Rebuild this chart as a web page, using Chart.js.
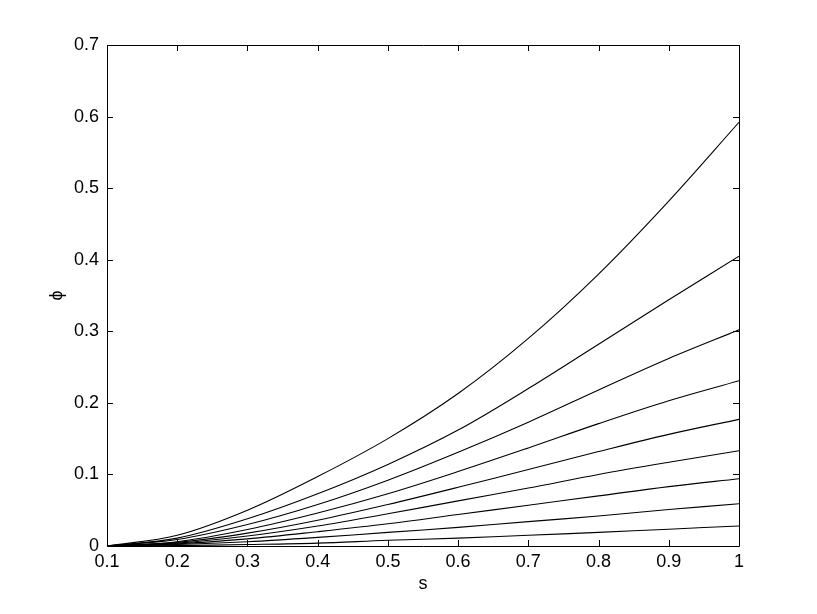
<!DOCTYPE html>
<html>
<head>
<meta charset="utf-8">
<title>phi vs s</title>
<script src="https://cdn.jsdelivr.net/npm/chart.js@4"></script>
<style>
  body{margin:0;background:#fff;}
  #wrap{width:817px;height:614px;}
</style>
</head>
<body>
<div id="wrap"><canvas id="chart" width="817" height="614"></canvas></div>
<script>
// s values (x axis)
const sVals = [0.1, 0.2, 0.3, 0.4, 0.5, 0.6, 0.7, 0.8, 0.9, 1.0];

// curves, top to bottom
const curve1 = [0, 0.015, 0.050, 0.097, 0.150, 0.213, 0.290, 0.380, 0.482, 0.592];
const curve2 = [0, 0.011, 0.038, 0.073, 0.114, 0.162, 0.220, 0.282, 0.344, 0.405];
const curve3 = [0, 0.009, 0.030, 0.058, 0.092, 0.131, 0.173, 0.218, 0.262, 0.302];
const curve4 = [0, 0.006, 0.023, 0.046, 0.073, 0.104, 0.137, 0.171, 0.203, 0.231];
const curve5 = [0, 0.005, 0.018, 0.036, 0.058, 0.082, 0.107, 0.132, 0.156, 0.177];
const curve6 = [0, 0.004, 0.014, 0.028, 0.045, 0.063, 0.081, 0.100, 0.117, 0.133];
const curve7 = [0, 0.003, 0.010, 0.020, 0.031, 0.044, 0.057, 0.070, 0.083, 0.094];
const curve8 = [0, 0.002, 0.006, 0.012, 0.019, 0.026, 0.034, 0.042, 0.051, 0.059];
const curve9 = [0, 0.0006, 0.002, 0.004, 0.008, 0.011, 0.015, 0.019, 0.0235, 0.028];

const curves = [curve1, curve2, curve3, curve4, curve5, curve6, curve7, curve8, curve9];

// axis ticks
const xTicks = [0.1, 0.2, 0.3, 0.4, 0.5, 0.6, 0.7, 0.8, 0.9, 1];
const yTicks = [0, 0.1, 0.2, 0.3, 0.4, 0.5, 0.6, 0.7];

const FONT = "'Liberation Sans', Arial, Helvetica, sans-serif";

// matlab style box with inward ticks on all four sides
const boxPlugin = {
  id: 'box',
  afterDraw(chart){
    const {ctx, chartArea: a, scales: {x, y}} = chart;
    const L = 6;
    ctx.save();
    ctx.strokeStyle = '#000';
    ctx.lineWidth = 1;
    ctx.beginPath();
    ctx.rect(Math.round(a.left) + 0.5, Math.round(a.top) + 0.5,
             Math.round(a.right) - Math.round(a.left), Math.round(a.bottom) - Math.round(a.top));
    xTicks.forEach(v => {
      const px = Math.round(x.getPixelForValue(v)) + 0.5;
      ctx.moveTo(px, a.bottom); ctx.lineTo(px, a.bottom - L);
      ctx.moveTo(px, a.top); ctx.lineTo(px, a.top + L);
    });
    yTicks.forEach(v => {
      const py = Math.round(y.getPixelForValue(v)) + 0.5;
      ctx.moveTo(a.left, py); ctx.lineTo(a.left + L, py);
      ctx.moveTo(a.right, py); ctx.lineTo(a.right - L, py);
    });
    ctx.stroke();
    ctx.restore();
  }
};

const datasets = curves.map((c, i) => ({
  label: 'curve ' + (i + 1),
  data: sVals.map((s, j) => ({x: s, y: c[j]})),
  borderColor: '#000',
  borderWidth: 1.1,
  pointRadius: 0,
  fill: false,
  tension: 0.35
}));

new Chart(document.getElementById('chart'), {
  type: 'line',
  data: {datasets},
  options: {
    responsive: false,
    animation: false,
    layout: {padding: {top: 45, right: 78, left: 0, bottom: 0}},
    plugins: {legend: {display: false}, tooltip: {enabled: false}},
    scales: {
      x: {
        type: 'linear', min: 0.1, max: 1,
        afterBuildTicks: s => { s.ticks = xTicks.map(v => ({value: v})); },
        afterFit: s => { s.height = 68; },
        grid: {display: false, drawTicks: false},
        border: {display: false},
        ticks: {color: '#000', padding: 5, font: {family: FONT, size: 18},
                callback: v => String(+v.toFixed(1))},
        title: {display: true, text: 's', color: '#000', padding: {top: 0, bottom: 19},
                font: {family: FONT, size: 18}}
      },
      y: {
        type: 'linear', min: 0, max: 0.7,
        afterBuildTicks: s => { s.ticks = yTicks.map(v => ({value: v})); },
        afterFit: s => { s.width = 107; },
        grid: {display: false, drawTicks: false},
        border: {display: false},
        ticks: {color: '#000', padding: 8, font: {family: FONT, size: 18},
                callback: v => String(+v.toFixed(1))},
        title: {display: true, text: 'ϕ', color: '#000', padding: {top: 46, bottom: 0},
                font: {family: FONT, size: 18}}
      }
    }
  },
  plugins: [boxPlugin]
});
</script>
</body>
</html>
